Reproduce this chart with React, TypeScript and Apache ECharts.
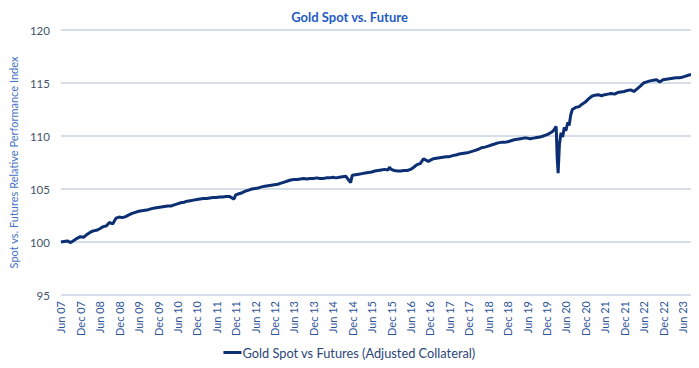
import React, { useEffect, useRef } from "react";
import * as echarts from "echarts";

// Axis ticks every six months, starting Jun 2007 (month 0)
const tickLabels = [
  "Jun 07", "Dec 07", "Jun 08", "Dec 08", "Jun 09", "Dec 09", "Jun 10", "Dec 10",
  "Jun 11", "Dec 11", "Jun 12", "Dec 12", "Jun 13", "Dec 13", "Jun 14", "Dec 14",
  "Jun 15", "Dec 15", "Jun 16", "Dec 16", "Jun 17", "Dec 17", "Jun 18", "Dec 18",
  "Jun 19", "Dec 19", "Jun 20", "Dec 20", "Jun 21", "Dec 21", "Jun 22", "Dec 22",
  "Jun 23",
];

// Months elapsed since Jun 2007 for each observation
const months = [
  0, 1, 2, 3, 4, 5, 6, 7, 8, 9, 10, 11,
  12, 13, 14, 15, 16, 17, 18, 19, 20, 21, 22, 23,
  24, 25, 26, 27, 28, 29, 30, 31, 32, 33, 34, 35,
  36, 37, 38, 39, 40, 41, 42, 43, 44, 45, 46, 47,
  48, 49, 50, 51, 52, 53.5, 54, 55, 56, 57, 58, 59,
  60, 61, 62, 63, 64, 65, 66, 67, 68, 69, 70, 71,
  72, 73, 74, 75, 76, 77, 78, 79, 80, 81, 82, 83,
  84, 85, 86, 87, 88, 89.5, 90, 91, 92, 93, 94, 95,
  96, 97, 98, 99, 100, 101, 101.5, 102, 103, 104, 105, 106, 107,
  108, 109, 110, 111, 112, 113.5, 114, 115, 116, 117, 118, 119,
  120, 121, 122, 123, 124, 125, 126, 127, 128, 129, 130, 131,
  132, 133, 134, 135, 136, 137, 138, 139, 140, 141, 142, 143,
  144, 145, 146, 147, 148, 149, 150, 151, 152, 153, 153.3, 153.6, 154, 154.5, 155, 155.5,
  156, 156.6, 157, 157.5, 158, 159, 160, 161, 162, 163, 164, 165, 166, 167,
  168, 169, 170, 171, 172, 173, 174, 175, 176, 177, 178, 179,
  180, 181, 182, 183, 184, 185, 186, 187, 188, 189, 190, 191,
  192, 193, 194, 195, 196, 196.5,
];

// Gold spot vs futures relative performance index
const indexValues = [
  100.0, 100.05, 100.1, 99.95, 100.15, 100.35, 100.5, 100.45, 100.7, 100.9, 101.05, 101.1,
  101.25, 101.45, 101.5, 101.85, 101.7, 102.25, 102.35, 102.3, 102.4, 102.55, 102.7, 102.8,
  102.9, 102.95, 103.0, 103.05, 103.15, 103.2, 103.25, 103.3, 103.35, 103.4, 103.4, 103.5,
  103.6, 103.7, 103.75, 103.85, 103.9, 103.95, 104.0, 104.05, 104.1, 104.1, 104.15, 104.2,
  104.2, 104.25, 104.25, 104.3, 104.3, 104.05, 104.45, 104.55, 104.65, 104.8, 104.9, 105.0,
  105.05, 105.1, 105.2, 105.25, 105.3, 105.35, 105.4, 105.45, 105.55, 105.65, 105.75, 105.85,
  105.9, 105.9, 105.95, 106.0, 105.95, 106.0, 106.0, 106.05, 106.0, 106.0, 106.05, 106.05,
  106.1, 106.05, 106.1, 106.15, 106.2, 105.6, 106.3, 106.35, 106.4, 106.45, 106.5, 106.55,
  106.6, 106.7, 106.75, 106.8, 106.85, 106.8, 107.05, 106.85, 106.75, 106.7, 106.7, 106.75, 106.75,
  106.85, 107.05, 107.3, 107.4, 107.85, 107.6, 107.7, 107.85, 107.9, 107.95, 108.0, 108.05,
  108.05, 108.15, 108.2, 108.3, 108.35, 108.4, 108.45, 108.55, 108.65, 108.75, 108.9, 108.95,
  109.05, 109.15, 109.25, 109.35, 109.4, 109.4, 109.45, 109.55, 109.65, 109.7, 109.75, 109.8,
  109.8, 109.75, 109.8, 109.85, 109.9, 110.0, 110.1, 110.25, 110.45, 110.9, 108.0, 106.5, 109.2, 110.3, 109.9, 110.8,
  110.5, 111.3, 111.0, 112.0, 112.5, 112.7, 112.75, 113.0, 113.2, 113.5, 113.75, 113.85, 113.9, 113.8,
  113.9, 113.95, 114.0, 113.95, 114.1, 114.15, 114.2, 114.3, 114.35, 114.2, 114.45, 114.7,
  115.0, 115.1, 115.2, 115.25, 115.3, 115.1, 115.3, 115.35, 115.4, 115.45, 115.5, 115.5,
  115.55, 115.65, 115.75, 115.8, 115.85, 115.9,
];

const seriesName = "Gold Spot vs Futures (Adjusted Collateral)";
const FONT = "Lato, 'Noto Sans', sans-serif";

export default function App() {
  const ref = useRef<HTMLDivElement>(null);

  useEffect(() => {
    if (!ref.current) return;
    const chart = echarts.init(ref.current, undefined, { renderer: "svg" });
    const data = months.map((m, i) => [m, indexValues[i]]);
    chart.setOption({
      animation: false,
      textStyle: { fontFamily: FONT },
      title: {
        text: "Gold Spot vs. Future",
        left: "center",
        top: 5,
        textStyle: { fontFamily: FONT, fontSize: 13, fontWeight: "bold", color: "#1f5bc6" },
      },
      grid: { left: 58, right: 2, top: 30, bottom: 73 },
      legend: {
        bottom: 4,
        left: "center",
        icon: "rect",
        itemWidth: 18,
        itemHeight: 3,
        itemGap: 10,
        data: [seriesName],
        textStyle: { fontFamily: FONT, fontSize: 12.8, color: "#2b4677", padding: [0, 0, 0, -4] },
      },
      xAxis: {
        type: "value",
        min: 0,
        max: 196.5,
        interval: 6,
        axisLine: { show: false },
        axisTick: { show: false },
        splitLine: { show: false },
        axisLabel: {
          rotate: 90,
          margin: 6,
          fontSize: 11,
          color: "#2f5597",
          fontFamily: FONT,
          showMaxLabel: false,
          formatter: (v: number) => tickLabels[Math.round(v / 6)] ?? "",
        },
      },
      yAxis: {
        type: "value",
        min: 95,
        max: 120,
        interval: 5,
        name: "Spot vs. Futures Relative Performance Index",
        nameLocation: "middle",
        nameGap: 38,
        nameTextStyle: { fontFamily: FONT, fontSize: 11, color: "#4472c4" },
        axisLine: { show: false },
        axisTick: { show: false },
        axisLabel: { fontSize: 11.5, color: "#44546a", margin: 11, fontFamily: FONT },
        splitLine: { lineStyle: { color: "#c9d3e3", width: 1.5 } },
      },
      series: [
        {
          name: seriesName,
          type: "line",
          data,
          showSymbol: false,
          symbol: "none",
          lineStyle: { color: "#0b2f72", width: 3 },
          itemStyle: { color: "#0b2f72" },
        },
      ],
    });
    return () => chart.dispose();
  }, []);

  return <div ref={ref} style={{ width: 699, height: 368, margin: -8 }} />;
}
